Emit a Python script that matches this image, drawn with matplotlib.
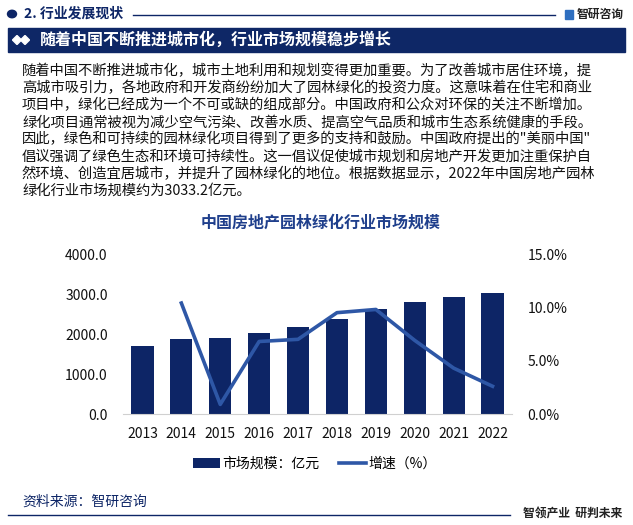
import matplotlib
matplotlib.use("Agg")
import matplotlib.pyplot as plt
from matplotlib.patches import Rectangle, Circle, Polygon
from matplotlib.lines import Line2D

plt.rcParams['font.family'] = ['Noto Sans CJK SC', 'DejaVu Sans']

#%% data
years = ['2013', '2014', '2015', '2016', '2017', '2018', '2019', '2020', '2021', '2022']
market_size = [1700.0, 1875.0, 1900.0, 2025.0, 2175.0, 2375.0, 2625.0, 2800.0, 2925.0, 3033.2]
growth_years = ['2014', '2015', '2016', '2017', '2018', '2019', '2020', '2021', '2022']
growth = [10.4, 0.9, 6.8, 7.0, 9.5, 9.8, 6.9, 4.3, 2.6]
left_ticks = [0, 1000, 2000, 3000, 4000]
right_ticks = [0, 5, 10, 15]

header = '2. 行业发展现状'
banner = '随着中国不断推进城市化，行业市场规模稳步增长'
paragraph = [
    '随着中国不断推进城市化，城市土地利用和规划变得更加重要。为了改善城市居住环境，提',
    '高城市吸引力，各地政府和开发商纷纷加大了园林绿化的投资力度。这意味着在住宅和商业',
    '项目中，绿化已经成为一个不可或缺的组成部分。中国政府和公众对环保的关注不断增加。',
    '绿化项目通常被视为减少空气污染、改善水质、提高空气品质和城市生态系统健康的手段。',
    '因此，绿色和可持续的园林绿化项目得到了更多的支持和鼓励。中国政府提出的"美丽中国"',
    '倡议强调了绿色生态和环境可持续性。这一倡议促使城市规划和房地产开发更加注重保护自',
    '然环境、创造宜居城市，并提升了园林绿化的地位。根据数据显示，2022年中国房地产园林',
    '绿化行业市场规模约为3033.2亿元。',
]
chart_title = '中国房地产园林绿化行业市场规模'
source = '资料来源：智研咨询'

navy = '#0D2566'
line_blue = '#2E57A6'

W, H = 633, 525
fig = plt.figure(figsize=(W / 100, H / 100), dpi=100)


def fx(x):
    return x / W


def fy(y):
    return 1 - y / H


#%% header row
fig.patches.append(Circle((fx(12), fy(14)), 4.5 / W, transform=fig.transFigure,
                          color=navy, zorder=3))
fig.text(fx(24), fy(14), header, fontsize=10, fontweight='bold', color=navy, va='center')
fig.add_artist(Line2D([fx(133), fx(555)], [fy(15), fy(15)], color=navy, lw=1.0))
fig.patches.append(Rectangle((fx(565), fy(19)), 8 / W, 9 / H, transform=fig.transFigure,
                             color='#2F6FC0'))
fig.text(fx(577), fy(14), '智研咨询', fontsize=8.5, fontweight='bold', color='#222222', va='center')

# banner
fig.patches.append(Rectangle((fx(8), fy(52)), 617 / W, 24 / H, transform=fig.transFigure,
                             color='#0E2766'))
for cx in (17, 25):
    fig.patches.append(Polygon([(fx(cx - 4.5), fy(40)), (fx(cx), fy(35.5)),
                                (fx(cx + 4.5), fy(40)), (fx(cx), fy(44.5))],
                               closed=True, transform=fig.transFigure, color='white'))
fig.text(fx(40), fy(40), banner, fontsize=11.5, fontweight='bold', color='white', va='center')

# paragraph
for i, line in enumerate(paragraph):
    fig.text(fx(22), fy(71 + i * 17.1), line, fontsize=10.3, color='#111111', va='center')

fig.text(fx(321), fy(223), chart_title, fontsize=11.5, fontweight='bold', color='#1F3F8C',
         ha='center', va='center')

#%% chart
ax = fig.add_axes([fx(123), fy(414), 389 / W, 160 / H])
x = list(range(len(years)))
ax.bar(x, market_size, width=0.57, color=navy, label='市场规模：亿元', zorder=2)
ax.set_xlim(-0.5, len(years) - 0.5)
ax.set_ylim(0, 4000)
ax.set_yticks(left_ticks)
ax.set_yticklabels([f'{v:.1f}' for v in left_ticks])
ax.set_xticks(x)
ax.set_xticklabels(years)
for s in ['top', 'right', 'left']:
    ax.spines[s].set_visible(False)
ax.spines['bottom'].set_color('#D0D0D0')
ax.tick_params(axis='both', length=0, labelsize=10, colors='#111111')
ax.tick_params(axis='y', pad=11)
ax.tick_params(axis='x', pad=9)
ax.patch.set_alpha(0)

ax2 = ax.twinx()
gx = [years.index(y) for y in growth_years]
ax2.plot(gx, growth, color=line_blue, lw=2.6, label='增速（%）', zorder=3)
ax2.set_ylim(0, 15)
ax2.set_yticks(right_ticks)
ax2.set_yticklabels([f'{v:.1f}%' for v in right_ticks])
for s in ['top', 'right', 'left', 'bottom']:
    ax2.spines[s].set_visible(False)
ax2.tick_params(axis='y', length=0, labelsize=10, colors='#111111', pad=11)

#%% legend
h1, l1 = ax.get_legend_handles_labels()
h2, l2 = ax2.get_legend_handles_labels()
fig.legend(h1 + h2, l1 + l2, loc='center', bbox_to_anchor=(fx(315), fy(464)), ncol=2,
           frameon=False, fontsize=10, handlelength=1.9, handleheight=0.8,
           columnspacing=1.4, handletextpad=0.2)

#%% footer
fig.text(fx(22), fy(502), source, fontsize=10, color=navy, va='center')
fig.add_artist(Line2D([fx(8), fx(510)], [fy(515), fy(515)], color=navy, lw=1.0))
fig.text(fx(523), fy(514), '智领产业  研判未来', fontsize=8.5, fontweight='bold', color='#222222',
         va='center')

fig.savefig('out.png', dpi=100)
